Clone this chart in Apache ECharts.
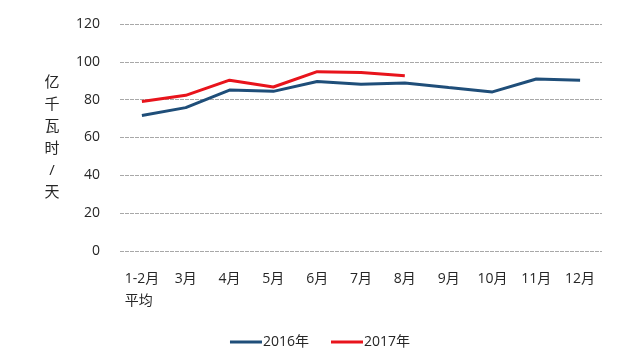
<!DOCTYPE html>
<html><head><meta charset="utf-8">
<script src="https://cdn.jsdelivr.net/npm/echarts@6/dist/echarts.min.js"></script>
<style>html,body{margin:0;padding:0;background:#fff}#c{width:640px;height:359px}</style>
</head><body><div id="c"></div>
<script>
const categories = ['1-2月\n平均','3月','4月','5月','6月','7月','8月','9月','10月','11月','12月'];
const series2016 = [71.6, 75.8, 85.1, 84.4, 89.6, 88.2, 88.8, 86.4, 84.1, 90.9, 90.3];
const series2017 = [79.0, 82.3, 90.3, 86.7, 94.8, 94.3, 92.7];
const yTicks = {min: 0, max: 120, interval: 20};
const FONT = '"Open Sans","Noto Sans CJK SC",sans-serif';
const TXT = '#262626';
const chart = echarts.init(document.getElementById('c'));
chart.setOption({
  animation: false,
  backgroundColor: '#fff',
  grid: {left: 120, right: 38, top: 24, bottom: 108},
  legend: {
    bottom: 5, left: 'center', itemWidth: 32, itemHeight: 3, itemGap: 22,
    icon: 'rect',
    textStyle: {fontFamily: FONT, fontSize: 14, color: TXT, padding: [0,0,0,-4]},
    data: ['2016年','2017年']
  },
  xAxis: {
    type: 'category', data: categories, boundaryGap: true,
    axisLine: {show: false}, axisTick: {show: false},
    axisLabel: {
      fontFamily: FONT, fontSize: 14, color: TXT, margin: 17, lineHeight: 22, interval: 0,
      formatter: function (v) {
        if (v.indexOf('\n') >= 0) { const p = v.split('\n'); return '{a|' + p[0] + '}\n{b|' + p[1] + '}'; }
        return v;
      },
      rich: {
        a: {fontFamily: FONT, fontSize: 14, color: TXT, lineHeight: 22},
        b: {fontFamily: FONT, fontSize: 14, color: TXT, lineHeight: 22, align: 'left'}
      }
    }
  },
  yAxis: {
    type: 'value', min: yTicks.min, max: yTicks.max, interval: yTicks.interval,
    name: '亿\n千\n瓦\n时\n/\n天', nameLocation: 'middle', nameRotate: 0, nameGap: 68,
    nameTextStyle: {fontFamily: FONT, fontSize: 15, color: TXT, lineHeight: 22, align: 'center'},
    axisLine: {show: false}, axisTick: {show: false},
    axisLabel: {fontFamily: FONT, fontSize: 14, color: TXT, margin: 20},
    splitLine: {lineStyle: {color: '#a8a8a8', type: [4, 1], width: 1}}
  },
  series: [
    {name: '2016年', type: 'line', data: series2016, symbol: 'none', color: '#1f4e79',
     lineStyle: {width: 3, color: '#1f4e79'}},
    {name: '2017年', type: 'line', data: series2017, symbol: 'none', color: '#e8141c',
     lineStyle: {width: 3, color: '#e8141c'}}
  ]
});
</script></body></html>
